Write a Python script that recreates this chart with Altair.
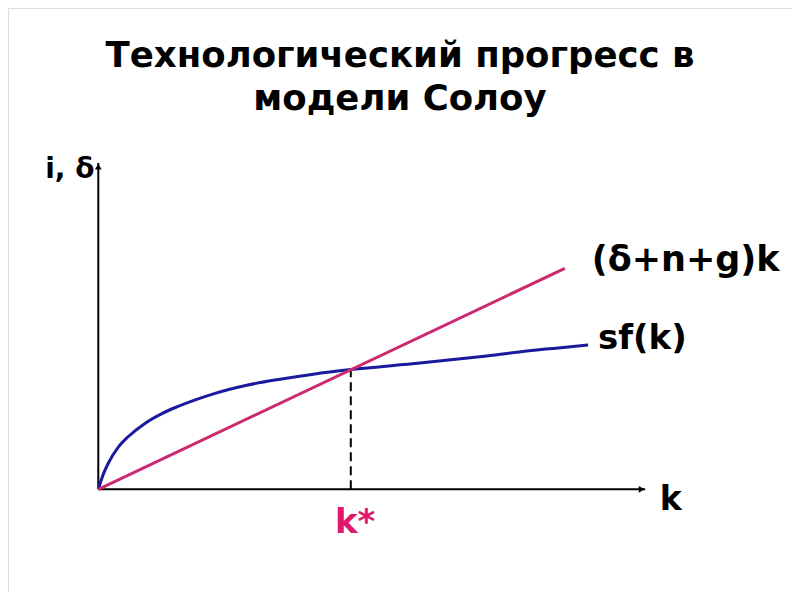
import altair as alt
import pandas as pd

# ---- data (economic units) ----
k_vals = [0, 0.1, 0.2, 0.4, 0.59, 0.93, 1.26, 1.58, 1.92, 2.28, 2.94, 3.6, 4.26, 5.0, 6.37, 7.69, 8.68, 9.01, 9.7]
sf_vals = [0, 0.3, 0.52, 0.84, 1.04, 1.31, 1.5, 1.64, 1.77, 1.89, 2.06, 2.18, 2.28, 2.37, 2.5, 2.64, 2.76, 2.79, 2.86]

line_k = [0, 9.24]
line_i = [0, 4.376]

k_star = 5.0
i_star = 2.37

x_axis_end = 10.83
y_axis_end = 6.46

title_lines = ["Технологический прогресс в", "модели Солоу"]
title_x = [5.974, 5.974]
title_y = [8.355, 7.511]

label_text = ["i, δ", "(δ+n+g)k", "sf(k)", "k", "k*"]
label_x = [-1.05, 9.77, 9.895, 11.12, 4.687]
label_y = [6.164, 4.323, 2.772, -0.41, -0.865]
label_color = ["#000000", "#000000", "#000000", "#000000", "#e0186c"]
label_size = [28, 35, 34, 33, 34]

XDOM = [-1.788, 13.737]
YDOM = [-2.034, 9.531]

xs = alt.Scale(domain=XDOM, nice=False, zero=False)
ys = alt.Scale(domain=YDOM, nice=False, zero=False)

def X(f):
    return alt.X(f, type="quantitative", scale=xs, axis=None)

def Y(f):
    return alt.Y(f, type="quantitative", scale=ys, axis=None)

sf_df = pd.DataFrame({"k": k_vals, "v": sf_vals})
ln_df = pd.DataFrame({"k": line_k, "v": line_i})
axes_df = pd.DataFrame({"x1": [0, 0], "y1": [0, 0], "x2": [x_axis_end, 0], "y2": [0, y_axis_end]})
dash_df = pd.DataFrame({"x1": [k_star], "y1": [0], "y2": [i_star]})
arrow_df = pd.DataFrame({"x": [x_axis_end - 0.07, 0], "y": [0, y_axis_end - 0.07],
                         "shape": ["triangle-right", "triangle-up"]})
title_df = pd.DataFrame({"t": title_lines, "x": title_x, "y": title_y})
lab_df = pd.DataFrame({"t": label_text, "x": label_x, "y": label_y, "c": label_color, "s": label_size})

axes = alt.Chart(axes_df).mark_rule(color="black", strokeWidth=2).encode(
    x=X("x1"), y=Y("y1"), x2="x2", y2="y2")
arrows = alt.Chart(arrow_df).mark_point(filled=True, color="black", size=45, opacity=1).encode(
    x=X("x"), y=Y("y"),
    shape=alt.Shape("shape:N", scale=None))
dash = alt.Chart(dash_df).mark_rule(color="black", strokeWidth=2, strokeDash=[9, 5]).encode(
    x=X("x1"), y=Y("y1"), y2="y2")
pink = alt.Chart(ln_df).mark_line(color="#cc2a70", strokeWidth=3).encode(
    x=X("k"), y=Y("v"))
blue = alt.Chart(sf_df).mark_line(color="#1a1a9e", strokeWidth=3, interpolate="monotone").encode(
    x=X("k"), y=Y("v"))
titles = alt.Chart(title_df).mark_text(font="DejaVu Sans", fontWeight="bold", fontSize=35.5,
                                       align="center", baseline="alphabetic", color="black").encode(
    x=X("x"), y=Y("y"), text="t:N")
labels = alt.Chart(lab_df).mark_text(font="DejaVu Sans", fontWeight="bold",
                                     align="left", baseline="alphabetic").encode(
    x=X("x"), y=Y("y"), text="t:N",
    color=alt.Color("c:N", scale=None),
    size=alt.Size("s:Q", scale=None))

chart = alt.layer(axes, dash, blue, pink, arrows, titles, labels).properties(
    width=784, height=584, padding=0, autosize=alt.AutoSizeParams(type="none")
).configure_view(stroke=None).configure(background="white")

chart.save("out.html", embed_options={"renderer": "svg", "actions": False})
